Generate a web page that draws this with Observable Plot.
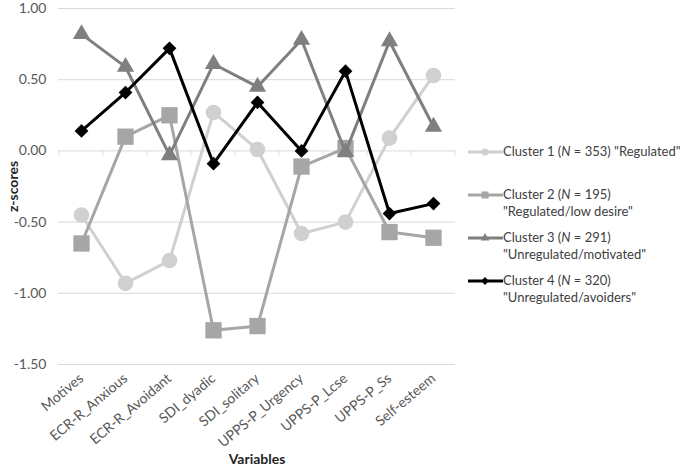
<!DOCTYPE html>
<html><head><meta charset="utf-8">
<script src="https://cdn.jsdelivr.net/npm/d3@7"></script>
<script src="https://cdn.jsdelivr.net/npm/@observablehq/plot@0.6"></script>
<style>
body{margin:0;background:#fff;font-family:Lato,"Open Sans",sans-serif;}
#wrap{position:relative;width:680px;height:465px;overflow:hidden;}
#chart{position:absolute;left:0;top:0;}
#legend{position:absolute;left:468px;top:143px;font-size:13px;color:#404040;}
.item{position:relative;height:43px;}
.item svg{position:absolute;left:0;top:0;}
.item .txt{position:absolute;left:35px;top:0;line-height:17px;white-space:nowrap;}
</style></head>
<body><div id="wrap"><div id="chart"></div><div id="legend"></div></div>
<script>
const variables = ["Motives","ECR-R_Anxious","ECR-R_Avoidant","SDI_dyadic","SDI_solitary","UPPS-P_Urgency","UPPS-P_Lcse","UPPS-P_Ss","Self-esteem"];
const cluster1 = [-0.45,-0.93,-0.77,0.27,0.01,-0.58,-0.50,0.09,0.53];
const cluster2 = [-0.65,0.10,0.25,-1.26,-1.23,-0.11,0.02,-0.57,-0.61];
const cluster3 = [0.82,0.59,-0.03,0.61,0.45,0.78,-0.01,0.77,0.17];
const cluster4 = [0.14,0.41,0.72,-0.09,0.34,0.00,0.56,-0.44,-0.37];
const yTicks = [-1.5,-1,-0.5,0,0.5,1];
const legendLine1 = ['Cluster 1 (<i>N</i> = 353) "Regulated"','Cluster 2 (<i>N</i> = 195)','Cluster 3 (<i>N</i> = 291)','Cluster 4 (<i>N</i> = 320)'];
const legendLine2 = ['','"Regulated/low desire"','"Unregulated/motivated"','"Unregulated/avoiders"'];

const styles = [
  {color:"#d0d0d0", symbol:"circle", r:7.8, lr:3.5, sym:d3.symbolCircle},
  {color:"#a6a6a6", symbol:"square", r:9.2, lr:4, sym:d3.symbolSquare},
  {color:"#7f7f7f", symbol:"triangle", r:6.4, lr:3.2, sym:d3.symbolTriangle},
  {color:"#000000", symbol:"diamond2", r:6.2, lr:3.5, sym:d3.symbolDiamond2}
];
const allSeries = [cluster1, cluster2, cluster3, cluster4];
const tables = allSeries.map(vals => variables.map((v,i)=>({variable:v, value:vals[i]})));

function boundaryTicks(index, scales) {
  const x = scales.x, y = scales.y;
  const pos = variables.map(v => x(v));
  const step = pos[1]-pos[0];
  const bounds = [pos[0]-step/2, ...pos.map(p=>p+step/2)];
  const g = d3.create("svg:g");
  g.selectAll("line").data(bounds).join("line")
    .attr("x1",d=>d).attr("x2",d=>d)
    .attr("y1",y(0)).attr("y2",y(0)+5)
    .attr("stroke","#d9d9d9");
  return g.node();
}

const seriesMarks = tables.flatMap((t,k)=>[
  Plot.line(t, {x:"variable", y:"value", stroke:styles[k].color, strokeWidth:3, strokeLinejoin:"round"}),
  Plot.dot(t, {x:"variable", y:"value", symbol:styles[k].symbol, r:styles[k].r, fill:styles[k].color, stroke:"none"})
]);

const chart = Plot.plot({
  width:680, height:465,
  marginLeft:58, marginRight:225, marginTop:8, marginBottom:101,
  style:{fontFamily:"Lato, sans-serif", fontSize:"14px", color:"#595959", background:"white", overflow:"visible"},
  x:{type:"point", domain:variables, padding:0.5},
  y:{domain:[-1.5,1]},
  marks:[
    Plot.ruleY(yTicks, {stroke:"#d9d9d9", strokeWidth:1}),
    boundaryTicks,
    Plot.axisY({ticks:yTicks, tickSize:0, tickPadding:12, tickFormat:d=>d.toFixed(2), label:"z-scores", labelAnchor:"center", labelOffset:50, labelArrow:"none"}),
    Plot.axisX({tickSize:0, tickRotate:-40, tickPadding:12, label:"Variables", labelAnchor:"center", labelOffset:99, labelArrow:"none"}),
    ...seriesMarks
  ]
});
chart.querySelectorAll('[aria-label$="axis label"]').forEach(g=>{g.setAttribute("font-weight","bold"); g.setAttribute("fill","#262626"); g.setAttribute("font-size","14px");});
document.getElementById("chart").appendChild(chart);

const legend = d3.select("#legend");
styles.forEach((s,k)=>{
  const item = legend.append("div").attr("class","item");
  const svg = item.append("svg").attr("width",36).attr("height",18);
  svg.append("line").attr("x1",0).attr("x2",35).attr("y1",9).attr("y2",9).attr("stroke",s.color).attr("stroke-width",3);
  svg.append("path").attr("transform","translate(17,9)").attr("d",d3.symbol(s.sym, Math.PI*s.lr*s.lr)()).attr("fill",s.color);
  item.append("div").attr("class","txt").html(legendLine1[k] + (legendLine2[k] ? "<br>"+legendLine2[k] : ""));
});
</script>
</body></html>
